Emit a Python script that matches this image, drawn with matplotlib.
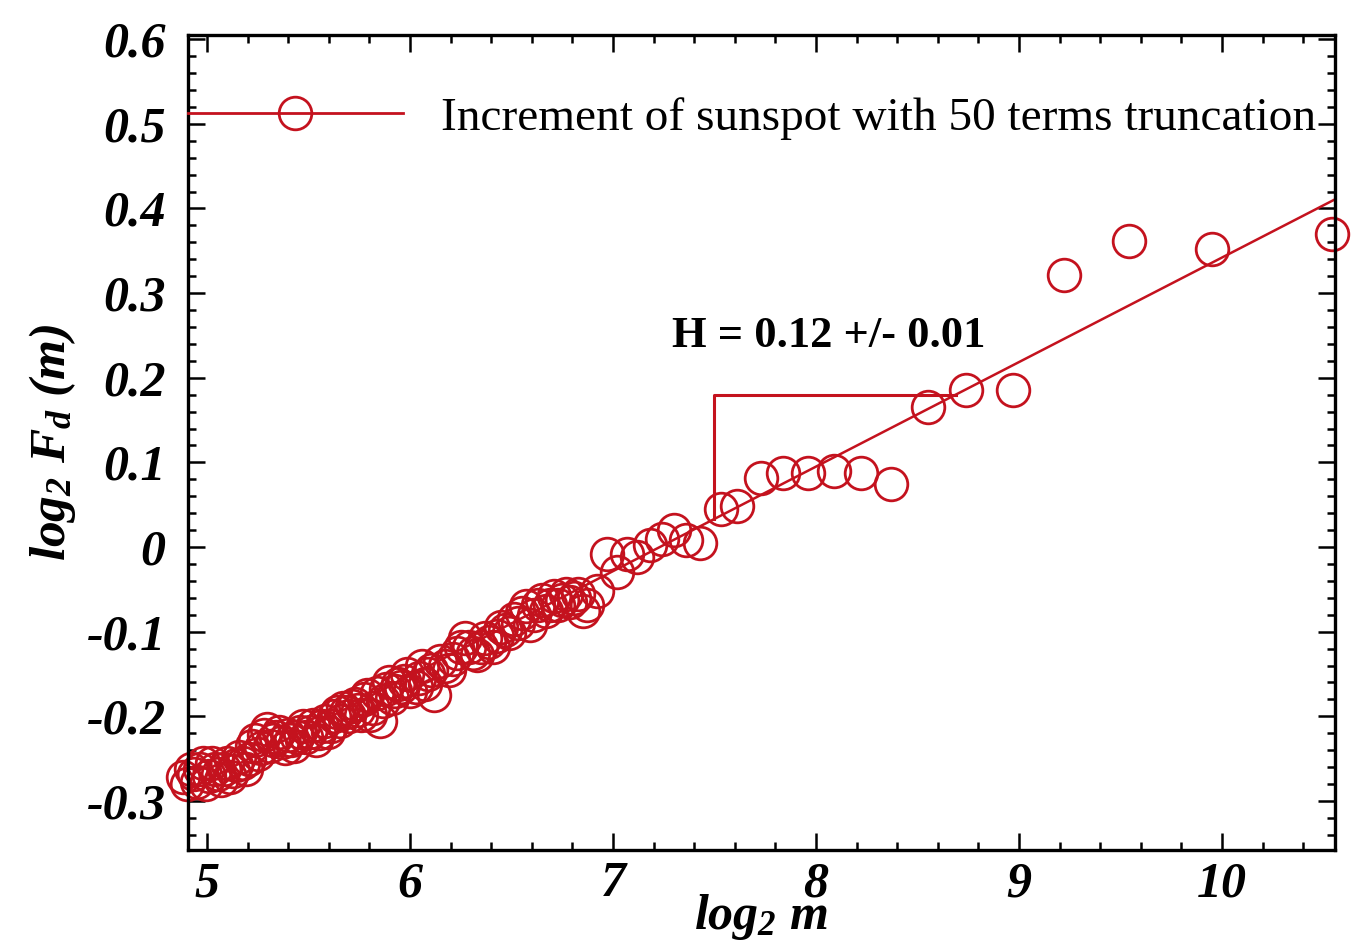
import matplotlib
matplotlib.use("Agg")
import matplotlib.pyplot as plt
from matplotlib.lines import Line2D
from matplotlib.ticker import MultipleLocator, FuncFormatter

plt.rcParams["font.family"] = ["Liberation Serif", "DejaVu Serif"]
plt.rcParams["mathtext.fontset"] = "custom"
plt.rcParams["mathtext.rm"] = "Liberation Serif:italic:bold"
plt.rcParams["mathtext.it"] = "Liberation Serif:italic:bold"
plt.rcParams["mathtext.bf"] = "Liberation Serif:italic:bold"
plt.rcParams["axes.unicode_minus"] = False

# data (dense part first, then the sparse tail)
log2_m = [4.88, 4.90, 4.92, 4.935, 4.95, 4.965, 4.98, 4.995, 5.01, 5.025,
          5.04, 5.055, 5.07, 5.085, 5.10, 5.115, 5.13, 5.145, 5.16, 5.175,
          5.19, 5.205, 5.22, 5.235, 5.25, 5.265, 5.28, 5.295, 5.31, 5.325,
          5.34, 5.355, 5.37, 5.385, 5.40, 5.415, 5.43, 5.445, 5.46, 5.475,
          5.49, 5.505, 5.52, 5.535, 5.55, 5.565, 5.58, 5.595, 5.61, 5.625,
          5.64, 5.655, 5.67, 5.685, 5.70, 5.715, 5.73, 5.745, 5.76, 5.775,
          5.79, 5.805, 5.82, 5.835, 5.85, 5.865, 5.88, 5.895, 5.91, 5.925,
          5.94, 5.955, 5.97, 5.985, 6.00, 6.03, 6.045, 6.06, 6.075, 6.09,
          6.105, 6.12, 6.15, 6.17, 6.19, 6.21, 6.23, 6.25, 6.27, 6.29,
          6.31, 6.33, 6.35, 6.37, 6.39, 6.41, 6.43, 6.45, 6.47, 6.49,
          6.51, 6.53, 6.55, 6.57, 6.59, 6.61, 6.63, 6.65, 6.67, 6.69,
          6.71, 6.73, 6.75, 6.77, 6.79, 6.81, 6.83, 6.85, 6.87, 6.92,
          6.97, 7.02, 7.07, 7.12, 7.18, 7.24, 7.30, 7.36, 7.43, 7.53,
          7.61, 7.73, 7.84, 7.96, 8.09, 8.22, 8.37, 8.55, 8.74, 8.97,
          9.22, 9.54, 9.95, 10.54]
log2_fd = [-0.272, -0.280, -0.262, -0.268, -0.278, -0.262, -0.255, -0.280, -0.270, -0.255,
           -0.262, -0.268, -0.275, -0.262, -0.255, -0.272, -0.265, -0.258, -0.248, -0.255,
           -0.262, -0.250, -0.235, -0.228, -0.245, -0.238, -0.222, -0.215, -0.235, -0.228,
           -0.225, -0.218, -0.230, -0.238, -0.222, -0.228, -0.235, -0.225, -0.218, -0.212,
           -0.225, -0.218, -0.210, -0.228, -0.220, -0.212, -0.205, -0.218, -0.212, -0.200,
           -0.195, -0.205, -0.190, -0.195, -0.200, -0.188, -0.185, -0.192, -0.198, -0.180,
           -0.175, -0.198, -0.190, -0.172, -0.205, -0.182, -0.168, -0.160, -0.178, -0.170,
           -0.162, -0.165, -0.158, -0.150, -0.170, -0.165, -0.155, -0.140, -0.162, -0.150,
           -0.145, -0.175, -0.135, -0.140, -0.145, -0.132, -0.125, -0.118, -0.108, -0.118,
           -0.125, -0.128, -0.118, -0.108, -0.112, -0.118, -0.105, -0.095, -0.098, -0.102,
           -0.085, -0.090, -0.078, -0.070, -0.092, -0.080, -0.068, -0.062, -0.075, -0.068,
           -0.058, -0.068, -0.062, -0.055, -0.065, -0.060, -0.055, -0.075, -0.068, -0.052,
           -0.008, -0.030, -0.008, -0.012, 0.002, 0.010, 0.020, 0.008, 0.005, 0.045,
           0.048, 0.082, 0.088, 0.088, 0.090, 0.088, 0.075, 0.165, 0.185, 0.185,
           0.322, 0.362, 0.352, 0.370]

# fitted line
fit_slope = 0.1235
fit_intercept = -0.893
fit_x = [4.88, 10.56]
# slope triangle
tri_x = 7.5
tri_top = 0.18

label = "Increment of sunspot with 50 terms truncation"
h_text = "H = 0.12 +/- 0.01"
red = "#c4121e"

fig = plt.figure(figsize=(13.56, 9.43), dpi=100)
ax = fig.add_axes([0.1386, 0.0986, 0.8459, 0.8643])

fit_y = [fit_intercept + fit_slope * v for v in fit_x]
ax.plot(fit_x, fit_y, color=red, lw=1.8)
ax.plot(log2_m, log2_fd, linestyle="none", marker="o", ms=23.5,
        mfc="none", mec=red, mew=2.0, clip_on=False)

x_hit = (tri_top - fit_intercept) / fit_slope
ax.plot([tri_x, tri_x, x_hit],
        [fit_intercept + fit_slope * tri_x, tri_top, tri_top],
        color=red, lw=2.2)

ax.text(7.29, 0.249, h_text, fontsize=32, fontweight="bold",
        ha="left", va="center")

handle = Line2D([], [], color=red, lw=2, marker="o", ms=23.5,
                mfc="none", mec=red, mew=2.0)
ax.legend([handle], [label], loc="center left", bbox_to_anchor=(0, 0.898),
          frameon=False, fontsize=34, handlelength=4.55, handletextpad=0.8,
          borderpad=0, borderaxespad=0, numpoints=1)

ax.set_xlim(4.906, 10.557)
ax.set_ylim(-0.358, 0.605)
ax.xaxis.set_major_locator(MultipleLocator(1))
ax.xaxis.set_minor_locator(MultipleLocator(0.2))
ax.yaxis.set_major_locator(MultipleLocator(0.1))
ax.yaxis.set_minor_locator(MultipleLocator(0.02))
ax.yaxis.set_major_formatter(FuncFormatter(lambda v, p: "0" if abs(v) < 1e-9 else f"{v:.1f}"))
ax.xaxis.set_major_formatter(FuncFormatter(lambda v, p: f"{v:.0f}"))

ax.tick_params(which="both", direction="in", top=True, right=True, width=1.8)
ax.tick_params(which="major", length=12)
ax.tick_params(which="minor", length=6)
ax.tick_params(axis="y", pad=16)
ax.tick_params(axis="x", pad=8)
for t in ax.get_xticklabels() + ax.get_yticklabels():
    t.set_fontsize(36)
    t.set_fontweight("bold")
    t.set_fontstyle("italic")
for s in ax.spines.values():
    s.set_linewidth(2.4)

ax.set_xlabel(r"$log_2\ m$", fontsize=36, labelpad=-11)
ax.set_ylabel(r"$log_2\ F_d\ (m)$", fontsize=37, labelpad=6)

fig.savefig("out.png", dpi=100, facecolor="white")
